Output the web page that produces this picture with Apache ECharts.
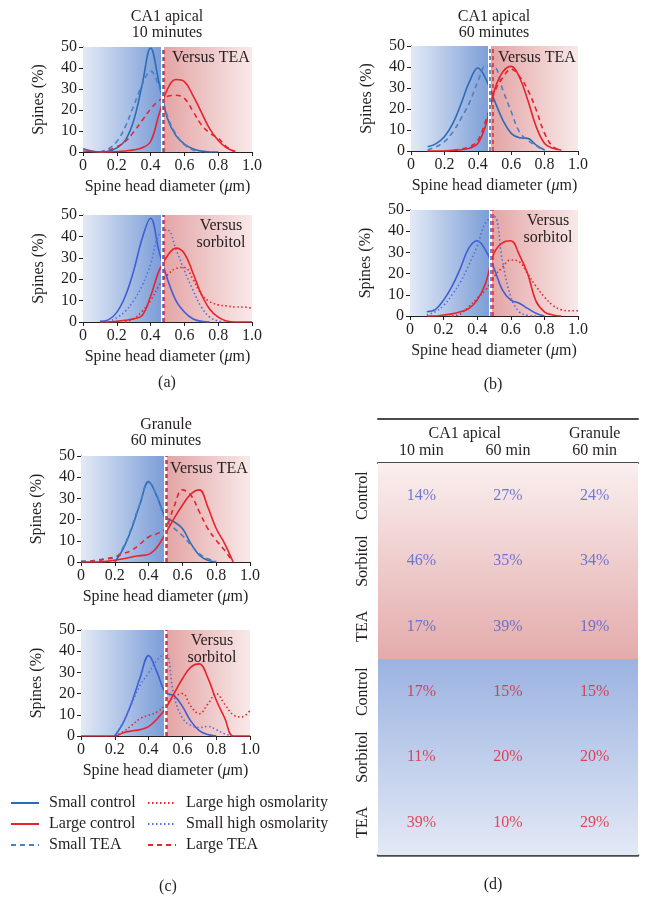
<!DOCTYPE html>
<html>
<head>
<meta charset="utf-8">
<script src="https://cdn.jsdelivr.net/npm/echarts@6/dist/echarts.min.js"></script>
<style>
html, body { margin: 0; padding: 0; background: #fff; }
#chart { width: 650px; height: 903px; }
</style>
</head>
<body>
<div id="chart"></div>
<script>
// spine head diameter (um), one sample every 0.05
const diameters = [0, 0.05, 0.1, 0.15, 0.2, 0.25, 0.3, 0.35, 0.4, 0.45, 0.5, 0.55, 0.6, 0.65, 0.7, 0.75, 0.8, 0.85, 0.9, 0.95, 1.0];

// (a) CA1 apical, 10 minutes
const a10SmallControl = [1.5, 0.5, 0, 0.3, 2, 5.5, 15, 32, 49.5, 33, 16, 7.8, 3.8, 1.5, 0.4, 0, 0, null, null, null, null];
const a10SmallTEA = [null, null, 0, 1.5, 5, 12, 22, 32, 38.5, 31, 17, 8.5, 3.5, 1, 0, null, null, null, null, null, null];
const a10LargeControl = [0.5, 0.3, 0, 0, 0.2, 0.5, 1, 2, 5, 18, 30, 34.5, 33.5, 27, 19, 11, 5.5, 2, 0.3, null, null];
const a10LargeTEA = [null, null, 0, 0.8, 2.4, 5, 9.5, 15, 20.5, 24.5, 26.5, 27, 25.5, 19.5, 13, 9, 6.5, 2.5, 0, null, null];
const a10SorbSmallControl = [null, null, 0.3, 1, 4.5, 12, 24, 39, 48.5, 33, 20, 10, 4.7, 1.5, 0.3, 0, null, null, null, null, null];
const a10SorbSmallOsm = [null, null, null, 0, 2, 5, 10, 17, 27, 41, 43, 34, 24, 15, 7, 2.3, 0.5, 0, null, null, null];
const a10SorbLargeControl = [null, null, 0, 0, 0.3, 0.8, 1.5, 3, 12, 24, 31, 34.5, 32, 23, 13, 6, 2.3, 0.5, 0, 0, 0];
const a10SorbLargeOsm = [null, null, null, null, null, 0, 1.5, 5, 10, 17, 22, 25, 25.5, 20, 13, 9.5, 8, 7.5, 7, 7, 6.5];

// (b) CA1 apical, 60 minutes
const b60SmallControl = [null, null, 2, 3.5, 6.8, 13, 22.5, 33, 39.5, 34, 24, 14.7, 8.4, 6.3, 6, 2.8, 0.5, null, null, null, null];
const b60SmallTEA = [null, null, 0.5, 2, 4.4, 9, 15.5, 23, 33, 40.5, 40, 29, 18.7, 9, 5, 2.5, 0, null, null, null, null];
const b60LargeControl = [null, null, 0, 0, 0, 0.3, 0.6, 1.3, 3.6, 13, 29, 37.7, 40.3, 35, 24, 11.5, 3.6, 1.3, 0.5, null, null];
const b60LargeTEA = [null, null, null, null, 0, 0.3, 1, 2, 5, 15, 28, 35, 39, 35.5, 29, 19.5, 8.4, 2, 0.3, null, null];
const b60SorbSmallControl = [null, null, 2, 3, 7.5, 14, 22.5, 32, 35.5, 31, 22.5, 12.3, 7.5, 6, 3.6, 1.3, 0, null, null, null, null];
const b60SorbSmallOsm = [null, null, 0.5, 2, 5, 10, 16, 24, 33, 44, 47, 26, 9, 2, 0.3, 0, null, null, null, null, null];
const b60SorbLargeControl = [null, null, 0, 0, 0.5, 1, 2, 3.5, 7.5, 15.4, 29.6, 34.5, 35.5, 29, 20, 7, 2, 0.5, 0, null, null];
const b60SorbLargeOsm = [null, null, null, null, null, 0, 1, 4.4, 8.3, 12.3, 18.5, 23, 26.4, 25.6, 20, 14, 9, 5, 3, 2.5, 2.5];

// (c) Granule, 60 minutes
const g60SmallControl = [null, null, null, null, 0, 6.3, 15.8, 27.6, 37.9, 30.8, 21.3, 19, 15.8, 8.7, 3.2, 0.8, 0, null, null, null, null];
const g60SmallTEA = [0.5, 0.5, 1, 1.5, 2, 7, 16.5, 28, 37.5, 31, 20, 16, 12.5, 8, 4, 1.5, 0.3, null, null, null, null];
const g60LargeControl = [0, 0, 0, 0.3, 0.8, 1.5, 2.4, 3, 3.6, 7, 13.4, 20.5, 26.8, 32, 34, 26, 15.8, 8.7, 0, null, null];
const g60LargeTEA = [0, 0.3, 0.8, 1.5, 2.4, 4, 5.5, 8.5, 11.8, 13.4, 15.8, 26, 34, 31.5, 23.7, 15.8, 10.3, 5.5, 0, null, null];
const g60SorbSmallControl = [null, null, null, null, 0, 6.3, 15.8, 27.6, 37.9, 30, 20.5, 19, 14, 7, 2.5, 0.7, 0, null, null, null, null];
const g60SorbSmallOsm = [null, null, null, null, 0, 6.6, 15.3, 24, 29.8, 35.8, 39, 19, 8.5, 5, 4, 4.5, 3, 1, 0, null, null];
const g60SorbLargeControl = [0, 0, 0, 0, 0, 1.5, 2.4, 3, 4.4, 8, 13, 20, 27, 32.5, 34, 27.5, 17, 8.5, 0, 0, 0];
const g60SorbLargeOsm = [null, null, null, null, 0, 2, 5, 8.2, 9.8, 11.4, 14.5, 18.5, 20, 14, 10.5, 15, 20, 15, 10, 9, 12];

// small / large cut-off diameter of each plot
const cutoffs = [0.47, 0.465, 0.475, 0.478, 0.5, 0.5];

// (d) table
const tableCols = ['10 min', '60 min', '60 min'];
const tableGroups = { 1: 'CA1 apical', 2.5: 'Granule' };
const tableRows = ['Control', 'Sorbitol', 'TEA', 'Control', 'Sorbitol', 'TEA'];
const smallSpinePct = [[14, 27, 24], [46, 35, 34], [17, 39, 19]];
const largeSpinePct = [[17, 15, 15], [11, 20, 20], [39, 10, 29]];

const FONT = 'Liberation Serif';
const INK = '#231f20';
const STEEL = '#2b6cb8';
const STEEL_DASH = '#4a80c4';
const ROYAL = '#3d5fd6';
const ROYAL_DOT = '#5470d8';
const RED = '#e8232b';

const chart = echarts.init(document.getElementById('chart'));

function grad(x2, y2, c0, c1) {
  return { type: 'linear', x: 0, y: 0, x2: x2, y2: y2,
    colorStops: [{ offset: 0, color: c0 }, { offset: 1, color: c1 }] };
}

const option = {
  animation: false,
  backgroundColor: '#fff',
  title: [], grid: [], xAxis: [], yAxis: [], series: [],
  legend: []
};

const panels = [
  { grid: { left: 83, top: 47, width: 169, height: 105 }, tag: 'Versus TEA', tagPos: [211, 49],
    lines: [['Small control', a10SmallControl, 'solid', STEEL], ['Small TEA', a10SmallTEA, [5, 4], STEEL_DASH],
            ['Large control', a10LargeControl, 'solid', RED], ['Large TEA', a10LargeTEA, [5, 4], RED]] },
  { grid: { left: 83, top: 215, width: 169, height: 107 }, tag: 'Versus\nsorbitol', tagPos: [221, 217],
    lines: [['Small control', a10SorbSmallControl, 'solid', ROYAL], ['Small high osmolarity', a10SorbSmallOsm, [1.5, 2.5], ROYAL_DOT],
            ['Large control', a10SorbLargeControl, 'solid', RED], ['Large high osmolarity', a10SorbLargeOsm, [1.5, 2.5], RED]] },
  { grid: { left: 411, top: 46, width: 167, height: 105 }, tag: 'Versus TEA', tagPos: [537, 49],
    lines: [['Small control', b60SmallControl, 'solid', STEEL], ['Small TEA', b60SmallTEA, [5, 4], STEEL_DASH],
            ['Large control', b60LargeControl, 'solid', RED], ['Large TEA', b60LargeTEA, [5, 4], RED]] },
  { grid: { left: 410, top: 210, width: 168, height: 106 }, tag: 'Versus\nsorbitol', tagPos: [548, 212],
    lines: [['Small control', b60SorbSmallControl, 'solid', ROYAL], ['Small high osmolarity', b60SorbSmallOsm, [1.5, 2.5], ROYAL_DOT],
            ['Large control', b60SorbLargeControl, 'solid', RED], ['Large high osmolarity', b60SorbLargeOsm, [1.5, 2.5], RED]] },
  { grid: { left: 81, top: 456, width: 169, height: 106 }, tag: 'Versus TEA', tagPos: [209, 460],
    lines: [['Small control', g60SmallControl, 'solid', STEEL], ['Small TEA', g60SmallTEA, [5, 4], STEEL_DASH],
            ['Large control', g60LargeControl, 'solid', RED], ['Large TEA', g60LargeTEA, [5, 4], RED]] },
  { grid: { left: 81, top: 630, width: 169, height: 106 }, tag: 'Versus\nsorbitol', tagPos: [212, 632],
    lines: [['Small control', g60SorbSmallControl, 'solid', ROYAL], ['Small high osmolarity', g60SorbSmallOsm, [1.5, 2.5], ROYAL_DOT],
            ['Large control', g60SorbLargeControl, 'solid', RED], ['Large high osmolarity', g60SorbLargeOsm, [1.5, 2.5], RED]] }
];

const txt = { fontFamily: FONT, fontSize: 16, color: INK, fontWeight: 'normal' };

panels.forEach(function (p, i) {
  const cut = cutoffs[i];
  option.grid.push(p.grid);
  option.xAxis.push({
    type: 'value', gridIndex: i, min: 0, max: 1, interval: 0.2,
    axisLine: { show: true, lineStyle: { color: INK, width: 1 } },
    axisTick: { show: true, length: 4, lineStyle: { color: INK } },
    splitLine: { show: false },
    axisLabel: { fontFamily: FONT, fontSize: 16, color: INK, margin: 6,
      formatter: function (v) { return v === 0 ? '0' : v.toFixed(1); } },
    name: '{t|Spine head diameter (}{i|\u03bc}{t|m)}',
    nameLocation: 'middle', nameGap: 27,
    nameTextStyle: { rich: { t: txt, i: Object.assign({}, txt, { fontStyle: 'italic' }) } }
  });
  option.yAxis.push({
    type: 'value', gridIndex: i, min: 0, max: 50, interval: 10,
    axisLine: { show: true, lineStyle: { color: INK, width: 1 } },
    axisTick: { show: true, length: 4, lineStyle: { color: INK } },
    splitLine: { show: false },
    axisLabel: { fontFamily: FONT, fontSize: 16, color: INK, margin: 6 },
    name: 'Spines (%)', nameLocation: 'middle', nameGap: 36, nameRotate: 90,
    nameTextStyle: txt
  });
  option.title.push({
    text: p.tag, left: p.tagPos[0], top: p.tagPos[1], textAlign: 'center', padding: 0,
    textStyle: Object.assign({}, txt, { lineHeight: 17 })
  });
  p.lines.forEach(function (ln, k) {
    const s = {
      type: 'line', name: ln[0], xAxisIndex: i, yAxisIndex: i,
      data: diameters.map(function (d, j) { return [d, ln[1][j]]; }),
      smooth: 0.4, symbol: 'none', connectNulls: false,
      color: ln[3],
      lineStyle: { color: ln[3], width: 1.6, type: ln[2] },
      z: 3
    };
    if (k === 0) {
      s.markArea = {
        silent: true,
        data: [
          [{ xAxis: 0, itemStyle: { color: grad(1, 0, '#e3eaf6', '#7a9cd7') } }, { xAxis: cut }],
          [{ xAxis: cut, itemStyle: { color: grad(1, 0, '#e3a3a4', '#f9e9e9') } }, { xAxis: 1 }]
        ]
      };
      s.markLine = {
        silent: true, symbol: ['none', 'none'], label: { show: false },
        data: [
          { xAxis: cut, lineStyle: { color: '#ffffff', type: 'solid', width: 3 } },
          { xAxis: cut, lineStyle: { color: i % 2 ? ROYAL : STEEL, type: [4, 3], width: 1.5 } },
          { xAxis: cut + 0.014, lineStyle: { color: RED, type: [4, 3], width: 1.5 } }
        ]
      };
    }
    option.series.push(s);
  });
});

// panel titles and letters
[
  ['CA1 apical\n10 minutes', 167, 9], ['CA1 apical\n60 minutes', 494, 9], ['Granule\n60 minutes', 166, 417],
  ['(a)', 167, 375], ['(b)', 493, 377], ['(c)', 168, 879], ['(d)', 493, 877]
].forEach(function (t) {
  option.title.push({ text: t[0], left: t[1], top: t[2], textAlign: 'center', padding: 0,
    textStyle: Object.assign({}, txt, { lineHeight: 16 }) });
});

// legend
const legendBase = {
  orient: 'vertical', itemGap: 5, itemWidth: 28, itemHeight: 14, padding: 0,
  itemStyle: { opacity: 0 },
  textStyle: { fontFamily: FONT, fontSize: 16, color: INK, padding: [0, 0, 0, 5] },
  selectedMode: false
};
option.legend.push(Object.assign({ left: 10, top: 795, data: ['Small control', 'Large control', 'Small TEA'] }, legendBase));
option.legend.push(Object.assign({ left: 147, top: 795, data: ['Large high osmolarity', 'Small high osmolarity', 'Large TEA'] }, legendBase));

// (d) table as its own grid
const T = 6;
option.grid.push({ left: 378, top: 463, width: 260, height: 392 });
option.xAxis.push({
  type: 'category', gridIndex: T, position: 'top', data: tableCols,
  axisLine: { show: true, lineStyle: { color: '#4a4a4a', width: 2 } },
  axisTick: { show: false },
  axisLabel: { fontFamily: FONT, fontSize: 16, color: INK, margin: 4 }
});
option.xAxis.push({
  type: 'value', gridIndex: T, position: 'bottom', min: 0, max: 3,
  axisLine: { show: true, lineStyle: { color: '#4a4a4a', width: 2.5 } },
  axisTick: { show: false }, axisLabel: { show: false }, splitLine: { show: false }
});
option.xAxis.push({
  type: 'value', gridIndex: T, position: 'top', offset: 44, min: 0, max: 3, interval: 0.5,
  axisLine: { show: true, lineStyle: { color: '#4a4a4a', width: 2 } },
  axisTick: { show: false }, splitLine: { show: false },
  axisLabel: { inside: true, margin: 7, fontFamily: FONT, fontSize: 16, color: INK,
    formatter: function (v) { return tableGroups[v] || ''; } }
});
option.yAxis.push({
  type: 'value', gridIndex: T, min: 0, max: 6, inverse: true,
  axisLine: { show: false }, axisTick: { show: false }, axisLabel: { show: false }, splitLine: { show: false }
});
option.yAxis.push({
  type: 'category', gridIndex: T, position: 'left', inverse: true, data: tableRows,
  axisLine: { show: false }, axisTick: { show: false },
  axisLabel: { interval: 0, rotate: 90, margin: 7, fontFamily: FONT, fontSize: 16, color: INK }
});

const cellData = [];
smallSpinePct.forEach(function (row, r) {
  row.forEach(function (v, c) { cellData.push({ value: [c + 0.5, r + 0.5, v], label: { color: '#4a5fcf' } }); });
});
largeSpinePct.forEach(function (row, r) {
  row.forEach(function (v, c) { cellData.push({ value: [c + 0.5, r + 3.5, v], label: { color: '#e31e2a' } }); });
});

option.series.push({
  type: 'scatter', xAxisIndex: 7, yAxisIndex: 6, silent: true,
  symbolSize: 1, itemStyle: { color: 'rgba(0,0,0,0)' },
  label: { show: true, position: 'inside', fontFamily: FONT, fontSize: 16,
    formatter: function (p) { return p.value[2] + '%'; } },
  data: cellData,
  markArea: {
    silent: true,
    data: [
      [{ yAxis: 0, itemStyle: { color: grad(0, 1, '#faefef', '#e4abab') } }, { yAxis: 3 }],
      [{ yAxis: 3, itemStyle: { color: grad(0, 1, '#9bb3e1', '#e3e9f6') } }, { yAxis: 6 }]
    ]
  }
});

chart.setOption(option);
</script>
</body>
</html>
